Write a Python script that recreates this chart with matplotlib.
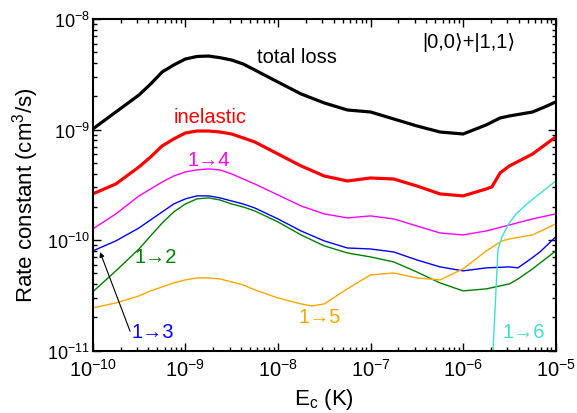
import numpy as np
import matplotlib
matplotlib.use("Agg")
import matplotlib.pyplot as plt
from matplotlib.ticker import LogLocator, NullFormatter

plt.rcParams["font.family"] = ["Liberation Sans", "DejaVu Sans"]
plt.rcParams["mathtext.fontset"] = "custom"
plt.rcParams["mathtext.rm"] = "Liberation Sans"
plt.rcParams["mathtext.it"] = "Liberation Sans:italic"

# --- data: log10(E_c / K) and log10(rate / cm^3 s^-1) ---
head = [-10.0, -9.75]
fine = [-9.5, -9.375, -9.25, -9.125, -9.0, -8.875, -8.75, -8.625, -8.5, -8.375, -8.25]
mid = [-8.0, -7.75, -7.5, -7.25, -7.0, -6.75, -6.5, -6.25, -6.0, -5.75]
base = head + fine + mid

total_x = base + [-5.6, -5.5, -5.25, -5.12, -5.0]
total_y = [-8.995, -8.841,
           -8.687, -8.588, -8.479, -8.416, -8.362, -8.339, -8.335, -8.350, -8.371, -8.407, -8.461,
           -8.570, -8.678, -8.759, -8.823, -8.841, -8.904, -8.967, -9.022, -9.040, -8.958,
           -8.895, -8.877, -8.841, -8.796, -8.750]

inel_x = base + [-5.69, -5.6, -5.5, -5.25, -5.0]
inel_y = [-9.582, -9.492,
          -9.338, -9.248, -9.148, -9.085, -9.031, -9.013, -9.013, -9.022, -9.040, -9.076, -9.112,
          -9.221, -9.329, -9.420, -9.465, -9.438, -9.447, -9.510, -9.582, -9.600, -9.537,
          -9.519, -9.392, -9.329, -9.221, -9.067]

r14_x = base + [-5.5, -5.25, -5.0]
r14_y = [-9.899, -9.763,
         -9.600, -9.537, -9.474, -9.420, -9.383, -9.365, -9.356, -9.365, -9.401, -9.447, -9.492,
         -9.591, -9.691, -9.763, -9.799, -9.781, -9.808, -9.872, -9.935, -9.953, -9.917,
         -9.863, -9.808, -9.763]

r13_x = base + [-5.5, -5.41, -5.3, -5.17, -5.0]
r13_y = [-10.098, -10.007,
         -9.890, -9.817, -9.745, -9.673, -9.627, -9.600, -9.600, -9.618, -9.646, -9.673, -9.709,
         -9.808, -9.917, -10.007, -10.071, -10.080, -10.107, -10.179, -10.242, -10.278, -10.251,
         -10.242, -10.251, -10.188, -10.107, -9.971]

r12_x = base + [-5.5, -5.39, -5.25, -5.0]
r12_y = [-10.468, -10.278,
         -10.080, -9.962, -9.845, -9.745, -9.673, -9.627, -9.618, -9.637, -9.673, -9.700, -9.736,
         -9.835, -9.953, -10.052, -10.116, -10.152, -10.197, -10.288, -10.387, -10.459, -10.441,
         -10.396, -10.342, -10.260, -10.098]

r15_x = head + fine + [-8.0, -7.75, -7.63, -7.5, -7.25, -7.0, -6.75, -6.5, -6.25, -6.0, -5.75] \
    + [-5.58, -5.5, -5.25, -5.0]
r15_y = [-10.613, -10.568,
         -10.505, -10.459, -10.423, -10.387, -10.360, -10.342, -10.342, -10.351, -10.378, -10.405, -10.450,
         -10.523, -10.577, -10.595, -10.577, -10.441, -10.315, -10.297, -10.342, -10.360, -10.260, -10.098,
         -10.007, -9.989, -9.953, -9.854]

r16_x = [-5.68, -5.623, -5.58, -5.515, -5.429, -5.299, -5.0]
r16_y = [-11.05, -10.080, -9.971, -9.863, -9.763, -9.664, -9.465]

series = [
    (total_x, total_y, "black", 2.3),
    (inel_x, inel_y, "#ff0000", 2.3),
    (r14_x, r14_y, "#ff00ff", 1.0),
    (r13_x, r13_y, "#0000ff", 1.0),
    (r12_x, r12_y, "#008000", 1.0),
    (r15_x, r15_y, "#ffa500", 1.0),
    (r16_x, r16_y, "#40e0d0", 1.0),
]

fig = plt.figure(figsize=(5.77, 4.14), dpi=100)
ax = fig.add_axes([0.1607, 0.1505, 0.8024, 0.8012])

for xs, ys, col, lw in series:
    ax.plot(10.0 ** np.array(xs), 10.0 ** np.array(ys), color=col, lw=lw)

ax.set_xscale("log")
ax.set_yscale("log")
ax.set_xlim(1e-10, 1e-5)
ax.set_ylim(1e-11, 1e-8)

ax.xaxis.set_major_locator(LogLocator(base=10, numticks=10))
ax.yaxis.set_major_locator(LogLocator(base=10, numticks=10))
ax.xaxis.set_minor_locator(LogLocator(base=10, subs=np.arange(2, 10), numticks=20))
ax.yaxis.set_minor_locator(LogLocator(base=10, subs=np.arange(2, 10), numticks=20))
ax.xaxis.set_minor_formatter(NullFormatter())
ax.yaxis.set_minor_formatter(NullFormatter())

ax.tick_params(which="both", direction="in", top=True, right=True, width=1.0)
ax.tick_params(which="major", length=5.5)
ax.tick_params(which="minor", length=3)
ax.tick_params(axis="x", which="major", labelsize=14.5, pad=5)
ax.tick_params(axis="y", which="major", labelsize=13, pad=2)
for sp in ax.spines.values():
    sp.set_linewidth(1.5)

ax.set_xlabel(r"E$_\mathrm{c}$ (K)", fontsize=16, labelpad=5)
ax.set_ylabel(r"Rate constant (cm$^3$/s)", fontsize=16)
ax.yaxis.set_label_coords(-0.112, 0.47)

lab = dict(fontsize=14.5, ha="center", va="center")
ax.text(1.6e-8, 4.6e-9, "total loss", color="black", **lab)
ax.text(1.16e-6, 6.3e-9, "|0,0\u27e9+|1,1\u27e9", color="black", **lab)
ax.text(1.85e-9, 1.3e-9, "inelastic", color="#ff0000", **lab)
ax.text(1.77e-9, 5.4e-10, "1\u21924", color="#ff00ff", **lab)
ax.text(4.8e-10, 7.05e-11, "1\u21922", color="#008000", **lab)
ax.text(4.4e-10, 1.48e-11, "1\u21923", color="#0000ff", **lab)
ax.text(2.86e-8, 2.02e-11, "1\u21925", color="#ffa500", **lab)
ax.text(4.57e-6, 1.48e-11, "1\u21926", color="#40e0d0", **lab)
ax.annotate("", xy=(1.2e-10, 7.8e-11), xytext=(2.53e-10, 1.5e-11),
            arrowprops=dict(arrowstyle="-|>", color="black", lw=0.8,
                            mutation_scale=7, shrinkA=0, shrinkB=0))

fig.savefig("out.png", dpi=100)
